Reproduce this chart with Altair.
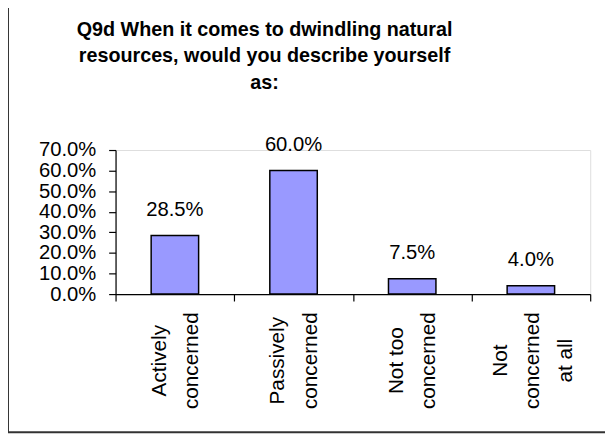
import altair as alt
import pandas as pd

categories = ["Actively\nconcerned", "Passively\nconcerned", "Not too\nconcerned", "Not\nconcerned\nat all"]
values = [0.285, 0.600, 0.075, 0.040]
value_labels = ["28.5%", "60.0%", "7.5%", "4.0%"]
y_ticks = [0.0, 0.1, 0.2, 0.3, 0.4, 0.5, 0.6, 0.7]
title_lines = ["Q9d When it comes to dwindling natural", "resources, would you describe yourself", "as:"]

df = pd.DataFrame({"cat": categories, "val": values, "lab": value_labels})

FONT = "Liberation Sans"

x_enc = alt.X("cat:N", sort=None, title=None,
              scale=alt.Scale(paddingInner=0, paddingOuter=0),
              axis=alt.Axis(labelAngle=-90, labelAlign="center", labelBaseline="middle",
                            labelExpr="split(datum.label, '\\n')", labelLineHeight=33,
                            labelFontSize=21, labelFont=FONT, labelColor="black",
                            labelOffset={"condition": {"test": "length(split(datum.label, '\\n')) == 3", "value": -31},
                                         "value": -16},
                            labelPadding=60, tickSize=7, tickColor="black", tickBand="extent",
                            labelOverlap=False, labelBound=False,
                            domainColor="black", domainWidth=1.2, tickWidth=1.2))
y_enc = alt.Y("val:Q", title=None,
              scale=alt.Scale(domain=[0, 0.7], nice=False),
              axis=alt.Axis(values=y_ticks, format=".1%", grid=False, labelOverlap=False,
                            labelFontSize=20.5, labelFont=FONT, labelColor="black",
                            labelPadding=13, tickSize=7, tickColor="black",
                            domainColor="black", domainWidth=1.2, tickWidth=1.2))

base = alt.Chart(df).encode(x=x_enc, y=y_enc)
bars = base.mark_bar(color="#9999FF", stroke="black", strokeWidth=1.5,
                     width=alt.RelativeBandSize(0.4))
texts = base.mark_text(baseline="alphabetic", dy=-20, fontSize=20.5, font=FONT, color="black").encode(
    text="lab:N")

one = alt.Data(values=[{"a": 1}])
border = alt.Chart(one).mark_rule(color="#333333", strokeWidth=2).encode(
    x=alt.value(-109), x2=alt.value(-109), y=alt.value(-160), y2=alt.value(286))
border2 = alt.Chart(one).mark_rule(color="#333333", strokeWidth=2).encode(
    x=alt.value(-109), x2=alt.value(520), y=alt.value(286), y2=alt.value(286))
title = alt.Chart(one).mark_text(fontSize=20, font=FONT, fontWeight="bold", color="black",
                                 lineHeight=27, align="center", baseline="alphabetic").encode(
    x=alt.value(151), y=alt.value(-116), text=alt.value(title_lines))

chart = alt.layer(border, border2, title, bars, texts).properties(
    width=481, height=146,
    autosize=alt.AutoSizeParams(type="none"),
    padding={"left": 109, "top": 141, "right": 15, "bottom": 150},
).configure_view(stroke="#888888", strokeWidth=2).configure(background="white")

chart.save("out.html", embed_options={"renderer": "svg", "actions": False})
